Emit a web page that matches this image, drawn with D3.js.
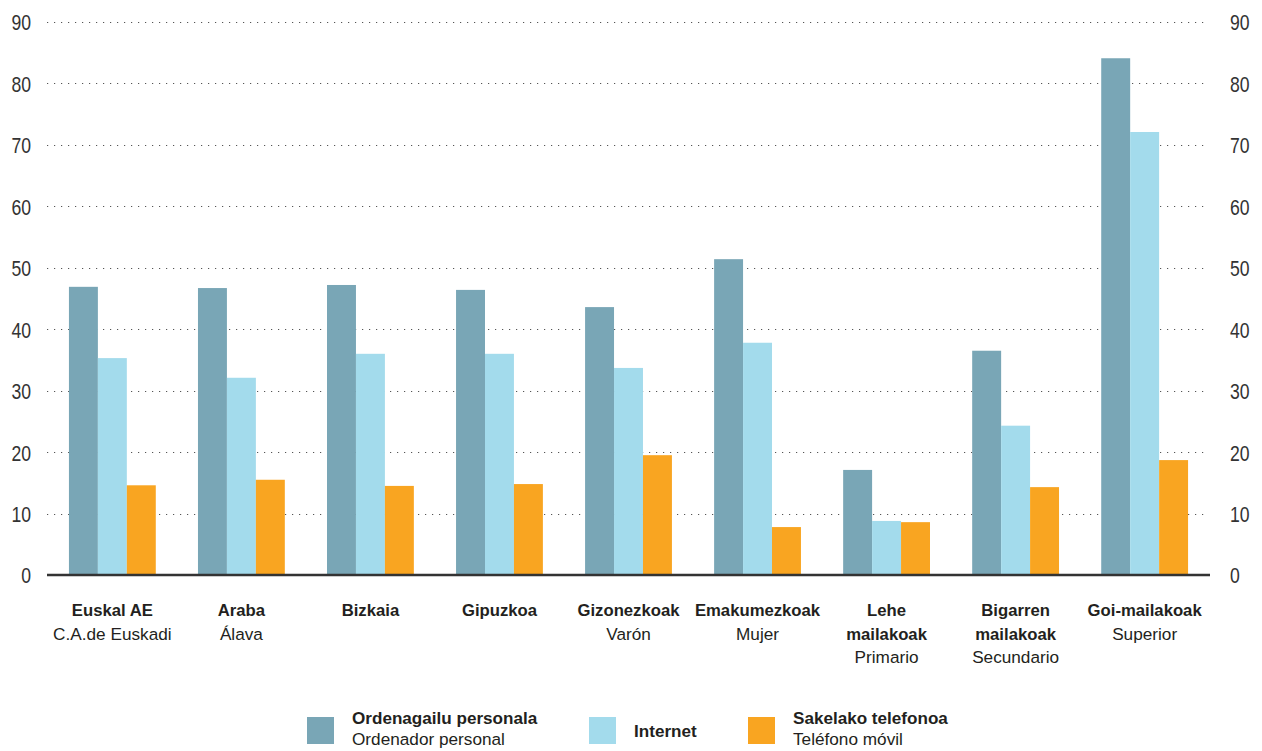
<!DOCTYPE html>
<html>
<head>
<meta charset="utf-8">
<script src="https://cdn.jsdelivr.net/npm/d3@7"></script>
<style>
  body { margin: 0; background: #fff; }
  svg { display: block; }
  text { font-family: "Liberation Sans", Arial, sans-serif; fill: #231f20; }
  .tick-label { font-size: 22px; fill: #333; }
</style>
</head>
<body>
<div id="chart"></div>
<script>
// categories: bold line(s) and normal line
var catBold = [["Euskal AE"], ["Araba"], ["Bizkaia"], ["Gipuzkoa"], ["Gizonezkoak"], ["Emakumezkoak"],
               ["Lehe", "mailakoak"], ["Bigarren", "mailakoak"], ["Goi-mailakoak"]];
var catSub = ["C.A.de Euskadi", "Álava", "", "", "Varón", "Mujer", "Primario", "Secundario", "Superior"];

var series = ["Ordenagailu personala", "Internet", "Sakelako telefonoa"];
var seriesSub = ["Ordenador personal", "", "Teléfono móvil"];
var colors = ["#79a6b6", "#a3dbec", "#f9a521"];

var ordenagailu = [46.9, 46.7, 47.2, 46.4, 43.6, 51.4, 17.1, 36.5, 84.1];
var internet    = [35.3, 32.1, 36.0, 36.0, 33.7, 37.8, 8.8, 24.3, 72.1];
var sakelako    = [14.6, 15.5, 14.5, 14.8, 19.5, 7.8, 8.6, 14.3, 18.7];

var yTicks = [0, 10, 20, 30, 40, 50, 60, 70, 80, 90];

var values = [ordenagailu, internet, sakelako];
var data = catSub.map(function(c, i) {
  return { idx: i, vals: values.map(function(s) { return s[i]; }) };
});

var W = 1262, H = 751;
var svg = d3.select("#chart")
  .append("svg")
    .attr("width", W)
    .attr("height", H);

var x0 = d3.scaleBand()
  .domain(d3.range(catSub.length))
  .range([47, 1210])
  .paddingInner(0.327)
  .paddingOuter(0.17);

var x1 = d3.scaleBand()
  .domain(d3.range(series.length))
  .range([0, x0.bandwidth()]);

var y = d3.scaleLinear()
  .domain([0, 90])
  .range([575, 22]);

// dotted gridlines
svg.append("g")
  .selectAll("line")
  .data(yTicks.filter(function(d) { return d > 0; }))
  .enter()
  .append("line")
    .attr("x1", 47)
    .attr("x2", 1207)
    .attr("y1", function(d) { return Math.round(y(d)) + 0.5; })
    .attr("y2", function(d) { return Math.round(y(d)) + 0.5; })
    .attr("stroke", "#555")
    .attr("stroke-width", 1.2)
    .attr("stroke-dasharray", "1.2,5.8");

// left and right tick labels (narrow digits)
svg.append("g")
  .call(d3.axisLeft(y).tickValues(yTicks).tickSize(0).tickPadding(0))
  .attr("transform", "translate(31,0)")
  .call(function(g) { g.select(".domain").remove(); })
  .selectAll("text")
    .attr("class", "tick-label")
    .attr("dy", "0.36em")
    .attr("transform", "scale(0.8,1)");

svg.append("g")
  .call(d3.axisRight(y).tickValues(yTicks).tickSize(0).tickPadding(0))
  .attr("transform", "translate(1230,0)")
  .call(function(g) { g.select(".domain").remove(); })
  .selectAll("text")
    .attr("class", "tick-label")
    .attr("dy", "0.36em")
    .attr("transform", "scale(0.8,1)");

// bars
var groups = svg.append("g")
  .selectAll("g")
  .data(data)
  .enter()
  .append("g")
    .attr("transform", function(d) { return "translate(" + x0(d.idx) + ",0)"; });

groups.selectAll("rect")
  .data(function(d) { return d.vals; })
  .enter()
  .append("rect")
    .attr("x", function(d, i) { return x1(i); })
    .attr("y", function(d) { return y(d); })
    .attr("width", x1.bandwidth())
    .attr("height", function(d) { return y(0) - y(d); })
    .style("fill", function(d, i) { return colors[i]; });

// zero line
svg.append("line")
  .attr("x1", 47)
  .attr("x2", 1210)
  .attr("y1", y(0))
  .attr("y2", y(0))
  .attr("stroke", "#333")
  .attr("stroke-width", 2.4);

// category labels
var labels = svg.append("g")
  .selectAll("text")
  .data(data)
  .enter()
  .append("text")
    .attr("x", function(d) { return x0(d.idx) + x0.bandwidth() / 2; })
    .attr("y", 616)
    .attr("text-anchor", "middle");

labels.each(function(d) {
  var t = d3.select(this);
  var cx = x0(d.idx) + x0.bandwidth() / 2;
  catBold[d.idx].forEach(function(line, k) {
    t.append("tspan")
      .attr("x", cx)
      .attr("dy", k === 0 ? 0 : 23.5)
      .style("font-weight", "bold")
      .style("font-size", "16.7px")
      .text(line);
  });
  if (catSub[d.idx]) {
    t.append("tspan")
      .attr("x", cx)
      .attr("dy", 23.5)
      .style("font-size", "17.2px")
      .text(catSub[d.idx]);
  }
});

// legend
var legendX = [307, 589, 748];
var legend = svg.append("g")
  .selectAll("g")
  .data(series)
  .enter()
  .append("g")
    .attr("transform", function(d, i) { return "translate(" + legendX[i] + ",717)"; });

legend.append("rect")
  .attr("width", 27)
  .attr("height", 27)
  .style("fill", function(d, i) { return colors[i]; });

legend.append("text")
  .attr("x", 45)
  .attr("y", function(d, i) { return seriesSub[i] ? 7 : 20; })
  .style("font-size", "17.1px")
  .style("font-weight", "bold")
  .text(function(d) { return d; });

legend.append("text")
  .attr("x", 45)
  .attr("y", 28)
  .style("font-size", "17.2px")
  .text(function(d, i) { return seriesSub[i]; });
</script>
</body>
</html>
